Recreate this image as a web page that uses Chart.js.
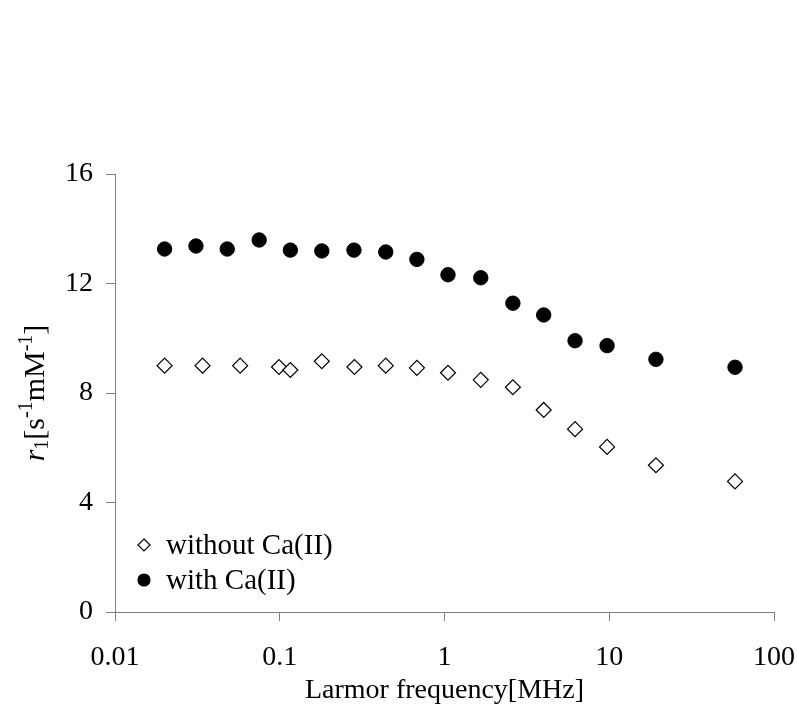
<!DOCTYPE html>
<html>
<head>
<meta charset="utf-8">
<script src="https://cdn.jsdelivr.net/npm/chart.js@4/dist/chart.umd.min.js"></script>
<style>
html,body{margin:0;padding:0;background:#fff;}
canvas{display:block;}
</style>
</head>
<body>
<canvas id="c" width="797" height="709"></canvas>
<script>
// ---- data ----
const freqWithout = [0.020, 0.034, 0.0575, 0.099, 0.116, 0.180, 0.284, 0.44, 0.68, 1.05, 1.66, 2.6, 4.0, 6.2, 9.7, 19.2, 58];
const r1Without   = [9.00, 9.00, 9.00, 8.95, 8.84, 9.16, 8.95, 9.00, 8.92, 8.74, 8.48, 8.21, 7.38, 6.68, 6.03, 5.36, 4.77];
const freqWith    = [0.020, 0.031, 0.048, 0.075, 0.116, 0.180, 0.282, 0.44, 0.68, 1.05, 1.66, 2.6, 4.0, 6.2, 9.7, 19.2, 58];
const r1With      = [13.26, 13.37, 13.26, 13.59, 13.22, 13.19, 13.22, 13.15, 12.88, 12.32, 12.21, 11.28, 10.85, 9.91, 9.73, 9.23, 8.94];

const seriesNames = ['without Ca(II)', 'with Ca(II)'];
const xTickValues = [0.01, 0.1, 1, 10, 100];
const xTickLabels = ['0.01', '0.1', '1', '10', '100'];
const yTickValues = [0, 4, 8, 12, 16];
const xAxisTitle = 'Larmor frequency[MHz]';
const yAxisTitleParts = ['r', '1', '[s', '-1', 'mM', '-1', ']'];

// ---- chart ----
const FONT = "'Liberation Serif', 'Times New Roman', serif";
const AXIS_COLOR = '#808080';
Chart.defaults.font.family = FONT;
Chart.defaults.color = '#000';

const toPoints = (xs, ys) => xs.map((x, i) => ({ x: x, y: ys[i] }));

const overlay = {
  id: 'overlay',
  afterDraw(chart) {
    const ctx = chart.ctx;
    // y-axis title with italic r, subscript and superscripts
    const styles = [
      { font: 'italic 30px ' + FONT, dy: 0 },
      { font: '20px ' + FONT, dy: 4 },
      { font: '30px ' + FONT, dy: 0 },
      { font: '20px ' + FONT, dy: -12 },
      { font: '30px ' + FONT, dy: 0 },
      { font: '20px ' + FONT, dy: -12 },
      { font: '30px ' + FONT, dy: 0 }
    ];
    ctx.save();
    ctx.fillStyle = '#000';
    ctx.textBaseline = 'alphabetic';
    ctx.textAlign = 'left';
    let total = 0;
    const widths = yAxisTitleParts.map((t, i) => {
      ctx.font = styles[i].font;
      const w = ctx.measureText(t).width;
      total += w;
      return w;
    });
    const cy = (chart.chartArea.top + chart.chartArea.bottom) / 2;
    ctx.translate(44, cy);
    ctx.rotate(-Math.PI / 2);
    let x = -total / 2;
    yAxisTitleParts.forEach((t, i) => {
      ctx.font = styles[i].font;
      ctx.fillText(t, x, styles[i].dy);
      x += widths[i];
    });
    ctx.restore();

    // legend inside the plot area
    ctx.save();
    const rows = [
      { ds: chart.data.datasets[0], y: 554 },
      { ds: chart.data.datasets[1], y: 589 }
    ];
    rows.forEach(r => {
      const mx = 144, my = r.y - 9;
      ctx.beginPath();
      if (r.ds.pointStyle === 'rectRot') {
        const h = 6;
        ctx.moveTo(mx, my - h); ctx.lineTo(mx + h, my); ctx.lineTo(mx, my + h); ctx.lineTo(mx - h, my); ctx.closePath();
      } else {
        ctx.arc(mx, my, 6, 0, Math.PI * 2);
      }
      ctx.fillStyle = r.ds.pointBackgroundColor;
      ctx.fill();
      ctx.lineWidth = 1.2;
      ctx.strokeStyle = r.ds.pointBorderColor;
      ctx.stroke();
      ctx.fillStyle = '#000';
      ctx.font = '29px ' + FONT;
      ctx.textBaseline = 'alphabetic';
      ctx.fillText(r.ds.label, 166, r.y);
    });
    ctx.restore();
  }
};

new Chart(document.getElementById('c'), {
  type: 'scatter',
  data: {
    datasets: [
      {
        label: seriesNames[0],
        data: toPoints(freqWithout, r1Without),
        pointStyle: 'rectRot',
        pointRadius: 7.5,
        pointHoverRadius: 7.5,
        pointBackgroundColor: '#ffffff',
        pointBorderColor: '#000000',
        pointBorderWidth: 1.2
      },
      {
        label: seriesNames[1],
        data: toPoints(freqWith, r1With),
        pointStyle: 'circle',
        pointRadius: 7.2,
        pointHoverRadius: 7.2,
        pointBackgroundColor: '#000000',
        pointBorderColor: '#000000',
        pointBorderWidth: 1
      }
    ]
  },
  options: {
    responsive: false,
    animation: false,
    devicePixelRatio: 1,
    layout: { padding: { top: 174, right: 23, left: 0, bottom: 0 } },
    plugins: { legend: { display: false }, tooltip: { enabled: false } },
    scales: {
      x: {
        type: 'logarithmic',
        min: 0.01,
        max: 100,
        afterBuildTicks: s => { s.ticks = xTickValues.map(v => ({ value: v })); },
        afterFit: s => { s.height = 97; s.paddingLeft = 0; s.paddingRight = 0; },
        ticks: {
          autoSkip: false,
          maxRotation: 0,
          padding: 20,
          font: { size: 28 },
          color: '#000',
          callback: (v, i) => xTickLabels[i]
        },
        grid: { display: true, drawOnChartArea: false, drawTicks: true, tickLength: 9, color: AXIS_COLOR },
        border: { display: true, color: AXIS_COLOR, width: 1 },
        title: { display: true, text: xAxisTitle, font: { size: 28 }, color: '#000', padding: { top: 0, bottom: 2 } }
      },
      y: {
        type: 'linear',
        min: 0,
        max: 16,
        afterBuildTicks: s => { s.ticks = yTickValues.map(v => ({ value: v })); },
        afterFit: s => { s.width = 115; s.paddingTop = 0; s.paddingBottom = 0; },
        ticks: {
          autoSkip: false,
          padding: 13,
          font: { size: 28 },
          color: '#000',
          callback: v => String(v)
        },
        grid: { display: true, drawOnChartArea: false, drawTicks: true, tickLength: 9, color: AXIS_COLOR },
        border: { display: true, color: AXIS_COLOR, width: 1 },
        title: { display: false, text: yAxisTitleParts.join('') }
      }
    }
  },
  plugins: [overlay]
});
</script>
</body>
</html>
